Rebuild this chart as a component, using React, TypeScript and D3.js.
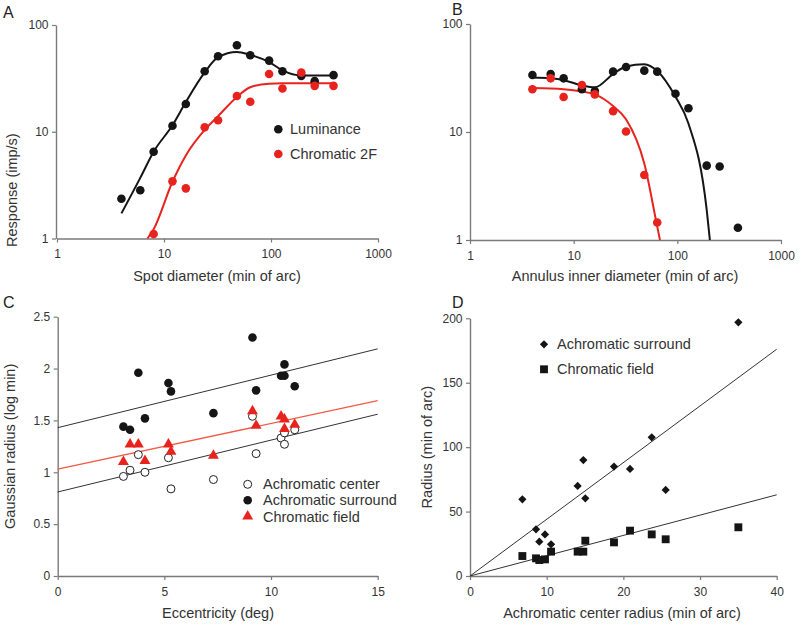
import React, { useEffect, useRef } from "react";
import * as d3 from "d3";

// ---------- Panel A: spot diameter ----------
const spotX = [4, 6, 8, 12, 16, 24, 32, 48, 64, 96, 128, 192, 256, 384];
const spotLum = [2.36, 2.83, 6.5, 11.4, 18.2, 36.9, 51, 64.6, 52, 46.4, 36.9, 33.4, 29.8, 33.9];
const spotChromX = [8, 12, 16, 24, 32, 48, 64, 96, 128, 192, 256, 384];
const spotChrom = [1.1, 3.43, 2.95, 11.0, 12.8, 21.6, 19.1, 34.8, 25.4, 35.8, 26.9, 26.9];
const spotLumFitX = [4, 6, 8, 12, 16, 24, 32, 48, 64, 96, 128, 192, 256, 384];
const spotLumFitY = [1.72, 3.7, 6.5, 11.5, 19, 36, 50, 56, 52.5, 45, 37.6, 33.7, 33.7, 33.7];
const spotChromFitX = [7, 8, 12, 16, 24, 32, 48, 64, 96, 128, 192, 256, 384];
const spotChromFitY = [1, 1.22, 3.4, 6.0, 10.4, 14.0, 21.2, 26.1, 28.2, 28.4, 28.4, 28.4, 28.4];

// ---------- Panel B: annulus inner diameter ----------
const annX = [4, 6, 8, 12, 16, 24, 32, 48, 64, 96, 128, 192, 256, 384];
const annLum = [33.7, 34.4, 31.4, 24.9, 24.0, 36.2, 40, 37, 36.2, 22.6, 16.6, 4.88, 4.8, 1.3];
const annChromX = [4, 6, 8, 12, 16, 24, 32, 48, 64];
const annChrom = [24.9, 31.4, 21.1, 27.2, 22.3, 15.6, 10.1, 4.0, 1.45];
const annLumFitX = [4, 6, 8, 12, 16, 24, 32, 48, 64, 96, 128, 192, 206];
const annLumFitY = [32, 31.4, 30.2, 27, 25.9, 34.4, 40.4, 42.4, 36.7, 21.2, 12, 1.9, 1];
const annChromFitX = [4, 6, 8, 12, 16, 24, 32, 48, 64, 68];
const annChromFitY = [25.5, 25.3, 24.9, 23.7, 22.3, 17.4, 13.1, 5.1, 1.33, 1];

// ---------- Panel C: eccentricity ----------
const eccX = [3.08, 3.39, 3.78, 4.09, 5.19, 5.31, 7.3, 9.13, 9.3, 10.47, 10.63, 10.63, 11.11];
const eccCenter = [0.96, 1.02, 1.17, 1.0, 1.14, 0.84, 0.93, 1.54, 1.18, 1.33, 1.27, 1.38, 1.41];
const eccSurround = [1.44, 1.41, 1.96, 1.52, 1.86, 1.78, 1.57, 2.3, 1.79, 1.93, 2.04, 1.93, 1.83];
const eccChrom = [1.1, 1.27, 1.27, 1.11, 1.27, 1.2, 1.16, 1.59, 1.45, 1.54, 1.51, 1.42, 1.46];
const eccFitX = [0, 15];
const eccSurroundFit = [1.43, 2.19];
const eccChromFit = [1.03, 1.69];
const eccCenterFit = [0.81, 1.56];

// ---------- Panel D: radius vs center radius ----------
const radCenter = [6.83, 8.61, 9.04, 9.78, 10.57, 14.04, 14.78, 15.04, 18.78, 20.87, 23.7, 25.52, 35.0];
const radSurround = [59.5, 36.2, 26.6, 32.3, 24.6, 69.9, 90.0, 60.3, 84.9, 83.1, 107.6, 66.8, 196.9];
const radChromX = [6.83, 8.61, 9.04, 9.78, 10.57, 14.04, 14.78, 15.04, 18.78, 20.87, 23.7, 25.52, 35.0];
const radChrom = [15.5, 13.7, 12.4, 12.9, 18.9, 18.9, 18.9, 27.4, 26.1, 35.2, 32.3, 28.5, 37.8];
const radFitX = [0, 40];
const radSurroundFit = [0, 176];
const radChromFit = [0, 63];

const logTicks = [1, 10, 100, 1000];
const logYTicks = [1, 10, 100];
const eccTicks = [0, 5, 10, 15];
const gaussTicks = [0, 0.5, 1, 1.5, 2, 2.5];
const centerTicks = [0, 10, 20, 30, 40];
const radiusTicks = [0, 50, 100, 150, 200];

const FONT = "'Liberation Sans', Arial, Helvetica, sans-serif";
const RED = "#e8231d";
const BLACK = "#151515";
const AXIS = "#7a7a7a";
const TEXT = "#333";

type AxisProps = {
  scale: any;
  orient: "bottom" | "left";
  tickValues: number[];
  transform: string;
  fmt?: (d: any) => string;
};

function Axis({ scale, orient, tickValues, transform, fmt }: AxisProps) {
  const ref = useRef<SVGGElement>(null);
  useEffect(() => {
    const gen = orient === "bottom" ? d3.axisBottom(scale) : d3.axisLeft(scale);
    gen
      .tickValues(tickValues)
      .tickSizeInner(4)
      .tickSizeOuter(0)
      .tickPadding(orient === "bottom" ? 7 : 3.5)
      .tickFormat((fmt || ((d: any) => String(d))) as any);
    const g = d3.select(ref.current!);
    g.call(gen as any);
    g.select(".domain").attr("stroke", AXIS).attr("stroke-width", 1.4);
    g.selectAll(".tick line").attr("stroke", AXIS).attr("stroke-width", 1.2);
    g.selectAll(".tick text")
      .attr("fill", TEXT)
      .style("font-family", FONT)
      .style("font-size", "12px");
  }, [scale, orient, tickValues, transform, fmt]);
  return <g ref={ref} transform={transform} />;
}

function zip(xs: number[], ys: number[]): [number, number][] {
  return xs.map((x, i) => [x, ys[i]]);
}

export default function App() {
  // Panel A scales
  const ax = d3.scaleLog().domain([1, 1000]).range([57, 378]);
  const ay = d3.scaleLog().domain([1, 100]).range([238.5, 25]);
  // Panel B scales
  const bx = d3.scaleLog().domain([1, 1000]).range([470, 781]);
  const by = d3.scaleLog().domain([1, 100]).range([240, 24]);
  // Panel C scales
  const cx = d3.scaleLinear().domain([0, 15]).range([57.7, 377.7]);
  const cy = d3.scaleLinear().domain([0, 2.5]).range([576, 316.7]);
  // Panel D scales
  const dx = d3.scaleLinear().domain([0, 40]).range([470, 776.7]);
  const dy = d3.scaleLinear().domain([0, 200]).range([576, 318.3]);

  const lineA = d3
    .line<[number, number]>()
    .x((d) => ax(d[0]))
    .y((d) => ay(d[1]))
    .curve(d3.curveMonotoneX);
  const lineB = d3
    .line<[number, number]>()
    .x((d) => bx(d[0]))
    .y((d) => by(d[1]))
    .curve(d3.curveMonotoneX);
  const lineC = d3
    .line<[number, number]>()
    .x((d) => cx(d[0]))
    .y((d) => cy(d[1]));
  const lineD = d3
    .line<[number, number]>()
    .x((d) => dx(d[0]))
    .y((d) => dy(d[1]));

  const tri = d3.symbol().type(d3.symbolTriangle).size(52)()!;
  const diamond = d3.symbol().type(d3.symbolSquare).size(34)()!;
  const square = d3.symbol().type(d3.symbolSquare).size(62)()!;

  const labelStyle: React.CSSProperties = { fontFamily: FONT, fontSize: "14.5px", fill: TEXT };
  const letterStyle: React.CSSProperties = { fontFamily: FONT, fontSize: "16px", fill: "#222" };
  const r = 4.3;

  return (
    <svg
      width={800}
      height={625}
      style={{ position: "absolute", left: 0, top: 0, background: "#fff" }}
    >
      {/* ================= Panel A ================= */}
      <text x={3} y={18} style={letterStyle}>A</text>
      <Axis scale={ax} orient="bottom" tickValues={logTicks} transform={`translate(0,${ay(1)})`} fmt={d3.format("d")} />
      <Axis scale={ay} orient="left" tickValues={logYTicks} transform={`translate(${ax(1) - 1},0)`} fmt={d3.format("d")} />
      <text x={217} y={281} textAnchor="middle" style={labelStyle}>Spot diameter (min of arc)</text>
      <text transform={`translate(17,${ay(Math.sqrt(10)) + 5}) rotate(-90)`} textAnchor="middle" style={labelStyle}>
        Response (imp/s)
      </text>
      <path d={lineA(zip(spotLumFitX, spotLumFitY))!} fill="none" stroke={BLACK} strokeWidth={2} />
      <path d={lineA(zip(spotChromFitX, spotChromFitY))!} fill="none" stroke={RED} strokeWidth={2} />
      {spotX.map((x, i) => (
        <circle key={"al" + i} cx={ax(x)} cy={ay(spotLum[i])} r={r} fill={BLACK} />
      ))}
      {spotChromX.map((x, i) => (
        <circle key={"ac" + i} cx={ax(x)} cy={ay(spotChrom[i])} r={r} fill={RED} />
      ))}
      <circle cx={278.3} cy={129.3} r={r} fill={BLACK} />
      <text x={290} y={134.3} style={labelStyle}>Luminance</text>
      <circle cx={278.3} cy={154} r={r} fill={RED} />
      <text x={290} y={159} style={labelStyle}>Chromatic 2F</text>

      {/* ================= Panel B ================= */}
      <text x={452} y={15} style={letterStyle}>B</text>
      <Axis scale={bx} orient="bottom" tickValues={logTicks} transform={`translate(0,${by(1)})`} fmt={d3.format("d")} />
      <Axis scale={by} orient="left" tickValues={logYTicks} transform={`translate(${bx(1)},0)`} fmt={d3.format("d")} />
      <text x={625} y={281} textAnchor="middle" style={labelStyle}>Annulus inner diameter (min of arc)</text>
      <path d={lineB(zip(annLumFitX, annLumFitY))!} fill="none" stroke={BLACK} strokeWidth={2} />
      <path d={lineB(zip(annChromFitX, annChromFitY))!} fill="none" stroke={RED} strokeWidth={2} />
      {annX.map((x, i) => (
        <circle key={"bl" + i} cx={bx(x)} cy={by(annLum[i])} r={r} fill={BLACK} />
      ))}
      {annChromX.map((x, i) => (
        <circle key={"bc" + i} cx={bx(x)} cy={by(annChrom[i])} r={r} fill={RED} />
      ))}

      {/* ================= Panel C ================= */}
      <text x={3} y={308} style={letterStyle}>C</text>
      <Axis scale={cx} orient="bottom" tickValues={eccTicks} transform={`translate(0,${cy(0)})`} />
      <Axis scale={cy} orient="left" tickValues={gaussTicks} transform={`translate(${cx(0)},0)`} />
      <text x={218} y={618} textAnchor="middle" style={labelStyle}>Eccentricity (deg)</text>
      <text transform={`translate(15,${cy(1.25)}) rotate(-90)`} textAnchor="middle" style={labelStyle}>
        Gaussian radius (log min)
      </text>
      <path d={lineC(zip(eccFitX, eccSurroundFit))!} fill="none" stroke="#333" strokeWidth={1} />
      <path d={lineC(zip(eccFitX, eccChromFit))!} fill="none" stroke="#f05a44" strokeWidth={1.3} />
      <path d={lineC(zip(eccFitX, eccCenterFit))!} fill="none" stroke="#333" strokeWidth={1} />
      {eccX.map((x, i) => (
        <circle key={"cc" + i} cx={cx(x)} cy={cy(eccCenter[i])} r={4} fill="#fff" stroke="#222" strokeWidth={1} />
      ))}
      {eccX.map((x, i) => (
        <path key={"ct" + i} d={tri} transform={`translate(${cx(x)},${cy(eccChrom[i])})`} fill={RED} />
      ))}
      {eccX.map((x, i) => (
        <circle key={"cs" + i} cx={cx(x)} cy={cy(eccSurround[i])} r={4.3} fill={BLACK} />
      ))}
      <circle cx={247.7} cy={484.3} r={4} fill="#fff" stroke="#222" strokeWidth={1} />
      <text x={263} y={489.3} style={labelStyle}>Achromatic center</text>
      <circle cx={247.7} cy={500.3} r={4.3} fill={BLACK} />
      <text x={263} y={505.3} style={labelStyle}>Achromatic surround</text>
      <path d={tri} transform="translate(247.7,516.3)" fill={RED} />
      <text x={263} y={521.8} style={labelStyle}>Chromatic field</text>

      {/* ================= Panel D ================= */}
      <text x={452} y={308} style={letterStyle}>D</text>
      <Axis scale={dx} orient="bottom" tickValues={centerTicks} transform={`translate(0,${dy(0)})`} />
      <Axis scale={dy} orient="left" tickValues={radiusTicks} transform={`translate(${dx(0)},0)`} />
      <text x={622} y={618} textAnchor="middle" style={labelStyle}>Achromatic center radius (min of arc)</text>
      <text transform={`translate(432,${dy(100)}) rotate(-90)`} textAnchor="middle" style={labelStyle}>
        Radius (min of arc)
      </text>
      <path d={lineD(zip(radFitX, radSurroundFit))!} fill="none" stroke="#333" strokeWidth={1} />
      <path d={lineD(zip(radFitX, radChromFit))!} fill="none" stroke="#333" strokeWidth={1} />
      {radCenter.map((x, i) => (
        <path key={"ds" + i} d={diamond} transform={`translate(${dx(x)},${dy(radSurround[i])}) rotate(45)`} fill={BLACK} />
      ))}
      {radChromX.map((x, i) => (
        <path key={"dc" + i} d={square} transform={`translate(${dx(x)},${dy(radChrom[i])})`} fill={BLACK} />
      ))}
      <path d={diamond} transform="translate(544,344.3) rotate(45)" fill={BLACK} />
      <text x={557} y={349.3} style={labelStyle}>Achromatic surround</text>
      <path d={square} transform="translate(544,369.3)" fill={BLACK} />
      <text x={557} y={374.3} style={labelStyle}>Chromatic field</text>
    </svg>
  );
}
